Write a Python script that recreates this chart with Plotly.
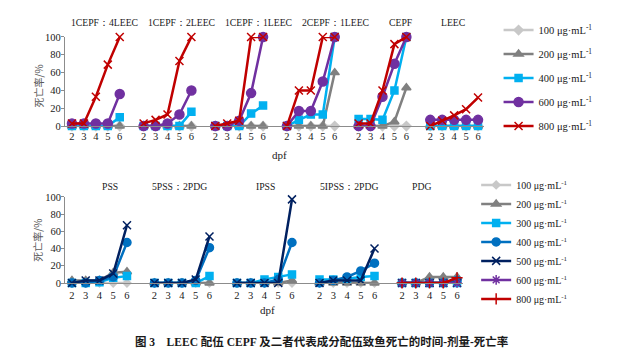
import plotly.graph_objects as go

days = ["2", "3", "4", "5", "6"]

# ---- top panel: LEEC + CEPF ----
top_groups = ["1CEPF：4LEEC", "1CEPF：2LEEC", "1CEPF：1LEEC", "2CEPF：1LEEC", "CEPF", "LEEC"]
top_100 = [[0, 0, 0, 0, 0], [0, 0, 0, 0, 0], [0, 0, 0, 0, 0], [0, 0, 0, 0, 0], [0, 0, 0, 0, 0], [0, 0, 0, 0, 0]]
top_200 = [[0, 0, 0, 0, 0], [0, 0, 0, 0, 0], [0, 0, 0, 0, 0], [0, 0, 0, 0, 60], [0, 0, 0, 5, 43], [0, 0, 0, 0, 0]]
top_400 = [[0, 0, 0, 0, 10], [0, 0, 0, 0, 16], [0, 0, 0, 14, 23], [0, 7, 13, 13, 100], [8, 8, 7, 40, 100], [0, 0, 0, 0, 0]]
top_600 = [[3, 3, 3, 3, 36], [0, 0, 3, 13, 40], [0, 0, 6, 37, 100], [0, 17, 17, 50, 100], [0, 0, 33, 70, 100], [7, 7, 7, 7, 7]]
top_800 = [[3, 3, 33, 69, 100], [3, 7, 13, 73, 100], [0, 3, 6, 100, 100], [0, 40, 40, 100, 100], [3, 3, 40, 92, 100], [0, 6, 12, 19, 32]]
top_labels = ["100 μg·mL<sup>-1</sup>", "200 μg·mL<sup>-1</sup>", "400 μg·mL<sup>-1</sup>",
              "600 μg·mL<sup>-1</sup>", "800 μg·mL<sup>-1</sup>"]

# ---- bottom panel: representative components ----
bot_groups = ["PSS", "5PSS：2PDG", "IPSS", "5IPSS：2PDG", "PDG"]
bot_100 = [[0, 0, 0, 0, 0], [0, 0, 0, 0, 0], [0, 0, 0, 0, 0], [0, 0, 0, 0, 0], [0, 0, 0, 0, 0]]
bot_200 = [[3, 3, 3, 12, 13], [0, 0, 0, 0, 0], [0, 0, 0, 0, 3], [0, 0, 0, 0, 0], [0, 0, 7, 7, 7]]
bot_300 = [[0, 0, 1, 6, 8], [0, 0, 0, 0, 8], [0, 0, 4, 7, 10], [4, 4, 5, 7, 8], [0, 0, 0, 0, 0]]
bot_400 = [[0, 0, 3, 7, 47], [0, 0, 0, 3, 41], [0, 0, 0, 4, 47], [0, 3, 7, 14, 23], [0, 0, 0, 0, 3]]
bot_500 = [[0, 3, 3, 11, 67], [0, 0, 0, 4, 54], [0, 0, 0, 0, 97], [0, 3, 3, 3, 40], [0, 0, 0, 0, 0]]
bot_600 = [None, None, None, None, [0, 0, 0, 0, 0]]
bot_800 = [None, None, None, None, [0, 0, 0, 0, 6]]
bot_labels = ["100 μg·mL<sup>-1</sup>", "200 μg·mL<sup>-1</sup>", "300 μg·mL<sup>-1</sup>",
              "400 μg·mL<sup>-1</sup>", "500 μg·mL<sup>-1</sup>", "600 μg·mL<sup>-1</sup>",
              "800 μg·mL<sup>-1</sup>"]

FONT = "Liberation Serif, Times New Roman, serif"
TXT = "#1A1A1A"


def flatten(series, n_groups):
    xs, ys = [], []
    for g in range(n_groups):
        vals = series[g]
        if vals is None:
            continue
        for i, v in enumerate(vals):
            xs.append(g * 6 + i)
            ys.append(v)
        xs.append(None)
        ys.append(None)
    return xs, ys


fig = go.Figure()

top_styles = [
    dict(color="#C8C8C8", symbol="diamond", size=7),
    dict(color="#808080", symbol="triangle-up", size=8),
    dict(color="#00B0F0", symbol="square", size=7),
    dict(color="#7030A0", symbol="circle", size=9),
    dict(color="#C00000", symbol="x-thin", size=8),
]
for k, (ser, lab, st) in enumerate(zip([top_100, top_200, top_400, top_600, top_800], top_labels, top_styles)):
    xs, ys = flatten(ser, len(top_groups))
    fig.add_trace(go.Scatter(
        x=xs, y=ys, mode="lines+markers", name=lab, xaxis="x", yaxis="y",
        line=dict(color=st["color"], width=2.5),
        marker=dict(symbol=st["symbol"], size=st["size"], color=st["color"],
                    line=dict(color=st["color"], width=1.5)),
        cliponaxis=False, connectgaps=False, legend="legend", legendgroup="t%d" % k,
    ))

bot_styles = [
    dict(color="#C8C8C8", symbol="diamond", size=6),
    dict(color="#808080", symbol="triangle-up", size=8),
    dict(color="#00B0F0", symbol="square", size=7),
    dict(color="#0070C0", symbol="circle", size=8),
    dict(color="#002060", symbol="x-thin", size=8),
    dict(color="#7030A0", symbol="asterisk", size=8),
    dict(color="#C00000", symbol="cross-thin", size=8),
]
for k, (ser, lab, st) in enumerate(zip([bot_100, bot_200, bot_300, bot_400, bot_500, bot_600, bot_800], bot_labels, bot_styles)):
    xs, ys = flatten(ser, len(bot_groups))
    fig.add_trace(go.Scatter(
        x=xs, y=ys, mode="lines+markers", name=lab, xaxis="x2", yaxis="y2",
        line=dict(color=st["color"], width=2.5),
        marker=dict(symbol=st["symbol"], size=st["size"], color=st["color"],
                    line=dict(color=st["color"], width=1.5)),
        cliponaxis=False, connectgaps=False, legend="legend2", legendgroup="b%d" % k,
    ))

top_tickvals = [g * 6 + i for g in range(len(top_groups)) for i in range(5)]
bot_tickvals = [g * 6 + i for g in range(len(bot_groups)) for i in range(5)]

axis_common = dict(showgrid=False, zeroline=False, showline=True, linecolor="#8C8C8C", linewidth=1,
                   tickfont=dict(family=FONT, size=10.5, color=TXT))

fig.update_layout(
    width=640, height=352,
    margin=dict(l=0, r=0, t=0, b=0),
    paper_bgcolor="white", plot_bgcolor="white",
    font=dict(family=FONT, size=11, color=TXT),
    xaxis=dict(domain=[0.10125, 0.75625], range=[-0.6, 34.5], tickmode="array",
               tickvals=top_tickvals, ticktext=days * len(top_groups), ticks="",
               anchor="y", **axis_common),
    yaxis=dict(domain=[0.6449, 0.90625], range=[0, 100], tickvals=[0, 20, 40, 60, 80, 100],
               ticks="outside", ticklen=3, tickcolor="#8C8C8C", anchor="x",
               ticklabelstandoff=-2, **axis_common),
    xaxis2=dict(domain=[0.1017, 0.7227], range=[-0.5, 28.4], tickmode="array",
                tickvals=bot_tickvals, ticktext=days * len(bot_groups), ticks="",
                anchor="y2", ticklabelstandoff=2, **axis_common),
    yaxis2=dict(domain=[0.1847, 0.4375], range=[0, 100], tickvals=[0, 20, 40, 60, 80, 100],
                ticks="outside", ticklen=3, tickcolor="#8C8C8C", anchor="x2",
                ticklabelstandoff=-2, **axis_common),
    legend=dict(x=0.779, y=0.969, xanchor="left", yanchor="top", bgcolor="rgba(0,0,0,0)",
                font=dict(family=FONT, size=10.5, color=TXT), tracegroupgap=5,
                itemwidth=30),
    legend2=dict(x=0.744, y=0.515, xanchor="left", yanchor="top", bgcolor="rgba(0,0,0,0)",
                 font=dict(family=FONT, size=10, color=TXT), tracegroupgap=0,
                 itemwidth=30),
    showlegend=True,
)

top_title_x = [2.76, 9.21, 15.58, 22.03, 27.55, 31.9]
bot_title_x = [2.76, 7.85, 14.1, 20.15, 25.45]
annotations = []
for name, xv in zip(top_groups, top_title_x):
    annotations.append(dict(x=xv, y=1.163, xref="x", yref="y domain", text=name, showarrow=False,
                            xanchor="center", yanchor="middle",
                            font=dict(family=FONT, size=9.7, color=TXT)))
for name, xv in zip(bot_groups, bot_title_x):
    annotations.append(dict(x=xv, y=1.124, xref="x2", yref="y2 domain", text=name, showarrow=False,
                            xanchor="center", yanchor="middle",
                            font=dict(family=FONT, size=9.7, color=TXT)))
annotations += [
    dict(x=17.4, y=-0.326, xref="x", yref="y domain", text="dpf", showarrow=False,
         xanchor="center", yanchor="middle", font=dict(family=FONT, size=11, color=TXT)),
    dict(x=14.2, y=-0.315, xref="x2", yref="y2 domain", text="dpf", showarrow=False,
         xanchor="center", yanchor="middle", font=dict(family=FONT, size=11, color=TXT)),
    dict(x=38 / 640, y=0.445, xref="paper", yref="y domain", text="死亡率/%", textangle=-90, showarrow=False,
         xanchor="center", yanchor="middle",
         font=dict(family="Noto Sans CJK SC, Liberation Serif", size=10, color="#595959")),
    dict(x=38 / 640, y=0.49, xref="paper", yref="y2 domain", text="死亡率/%", textangle=-90, showarrow=False,
         xanchor="center", yanchor="middle",
         font=dict(family="Noto Sans CJK SC, Liberation Serif", size=10, color="#595959")),
    dict(x=322 / 640, y=1 - 347 / 352, xref="paper", yref="paper", yanchor="middle", xanchor="center",
         text="<b>图 3　LEEC 配伍 CEPF 及二者代表成分配伍致鱼死亡的时间-剂量-死亡率</b>",
         showarrow=False, font=dict(family="Liberation Serif, Noto Sans CJK SC", size=11.5, color=TXT)),
]
fig.update_layout(annotations=annotations)

fig.write_html("out.html")
